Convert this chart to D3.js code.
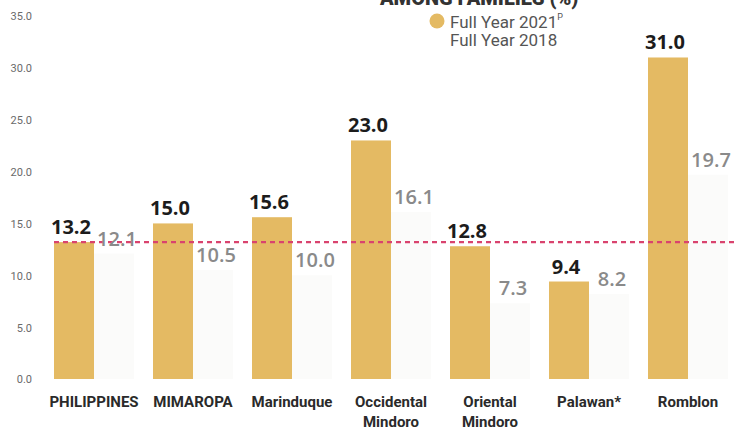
<!DOCTYPE html>
<html><head><meta charset="utf-8">
<script src="https://cdn.jsdelivr.net/npm/d3@7"></script>
<style>body{margin:0;background:#fff;}svg{display:block;}</style>
</head><body>
<svg id="c" width="734" height="430"></svg>
<script>
const categories = [["PHILIPPINES"],["MIMAROPA"],["Marinduque"],["Occidental","Mindoro"],["Oriental","Mindoro"],["Palawan*"],["Romblon"]];
const values2021 = [13.2, 15.0, 15.6, 23.0, 12.8, 9.4, 31.0];
const values2018 = [12.1, 10.5, 10.0, 16.1, 7.3, 8.2, 19.7];
const yTicks = [0, 5, 10, 15, 20, 25, 30, 35];
const referenceValue = 13.2;
const seriesNames = ["Full Year 2021", "Full Year 2018"];

const svg = d3.select("#c");
const names = categories.map(c => c.join(" "));
const x = d3.scaleBand().domain(names).range([54, 728]).paddingInner(19/99).paddingOuter(0);
const x1 = d3.scaleBand().domain(["2021","2018"]).range([0, x.bandwidth()]);
const y = d3.scaleLinear().domain([0, 35]).range([379, 16]);

// y tick labels
const yAxis = d3.axisLeft(y).tickValues(yTicks).tickFormat(d3.format(".1f")).tickSize(0).tickPadding(0);
const ga = svg.append("g").attr("transform", "translate(32,0)").call(yAxis);
ga.select(".domain").remove();
ga.selectAll("text").attr("font-family", "Roboto, sans-serif").attr("font-size", 11).attr("fill", "#6a6a6a").attr("dy", "0.35em");

// bars
const g = svg.append("g");
names.forEach((n, i) => {
  g.append("rect").attr("x", x(n) + x1("2018")).attr("y", y(values2018[i]))
    .attr("width", x1.bandwidth()).attr("height", y(0) - y(values2018[i])).attr("fill", "#fbfbfa");
  g.append("rect").attr("x", x(n) + x1("2021")).attr("y", y(values2021[i]))
    .attr("width", x1.bandwidth()).attr("height", y(0) - y(values2021[i])).attr("fill", "#e4ba63");
});

// reference dashed line
svg.append("line").attr("x1", x(names[0])).attr("x2", 734)
  .attr("y1", y(referenceValue)).attr("y2", y(referenceValue))
  .attr("stroke", "#d9436e").attr("stroke-width", 2.2).attr("stroke-dasharray", "5,4");

// value labels
names.forEach((n, i) => {
  svg.append("text").attr("x", x(n) + x1("2021") + x1.bandwidth()/2 - 3).attr("y", y(values2021[i]) - 8)
    .attr("text-anchor", "middle").attr("font-family", "'Open Sans', sans-serif").attr("font-weight", 700)
    .attr("font-size", 20).attr("fill", "#1c1c1c").text(values2021[i].toFixed(1));
  svg.append("text").attr("x", x(n) + x1("2018") + x1.bandwidth()/2 + 3).attr("y", y(values2018[i]) - 8)
    .attr("text-anchor", "middle").attr("font-family", "'Open Sans', sans-serif").attr("font-weight", 600)
    .attr("font-size", 20).attr("fill", "#8a8a8a").text(values2018[i].toFixed(1));
});

// category labels
categories.forEach((c, i) => {
  const t = svg.append("text").attr("x", x(names[i]) + x.bandwidth()/2).attr("y", 407)
    .attr("text-anchor", "middle").attr("font-family", "Roboto, sans-serif")
    .attr("font-weight", 700).attr("font-size", 15).attr("fill", "#2a2a2a");
  c.forEach((line, j) => t.append("tspan").attr("x", x(names[i]) + x.bandwidth()/2).attr("dy", j === 0 ? 0 : 20).text(line));
});

// title (cut off at top)
svg.append("text").attr("x", 380).attr("y", 5).attr("font-family", "Roboto, sans-serif").attr("font-weight", 900)
  .attr("font-size", 20).attr("fill", "#333").text("AMONG FAMILIES (%)");

// legend
svg.append("circle").attr("cx", 437).attr("cy", 21).attr("r", 7.5).attr("fill", "#e4ba63");
const l1 = svg.append("text").attr("x", 450).attr("y", 28).attr("font-family", "Roboto, sans-serif")
  .attr("font-size", 17).attr("fill", "#555").text(seriesNames[0]);
l1.append("tspan").attr("font-size", 9).attr("dy", -8).text("P");
svg.append("text").attr("x", 450).attr("y", 46).attr("font-family", "Roboto, sans-serif")
  .attr("font-size", 17).attr("fill", "#555").text(seriesNames[1]);
</script>
</body></html>
